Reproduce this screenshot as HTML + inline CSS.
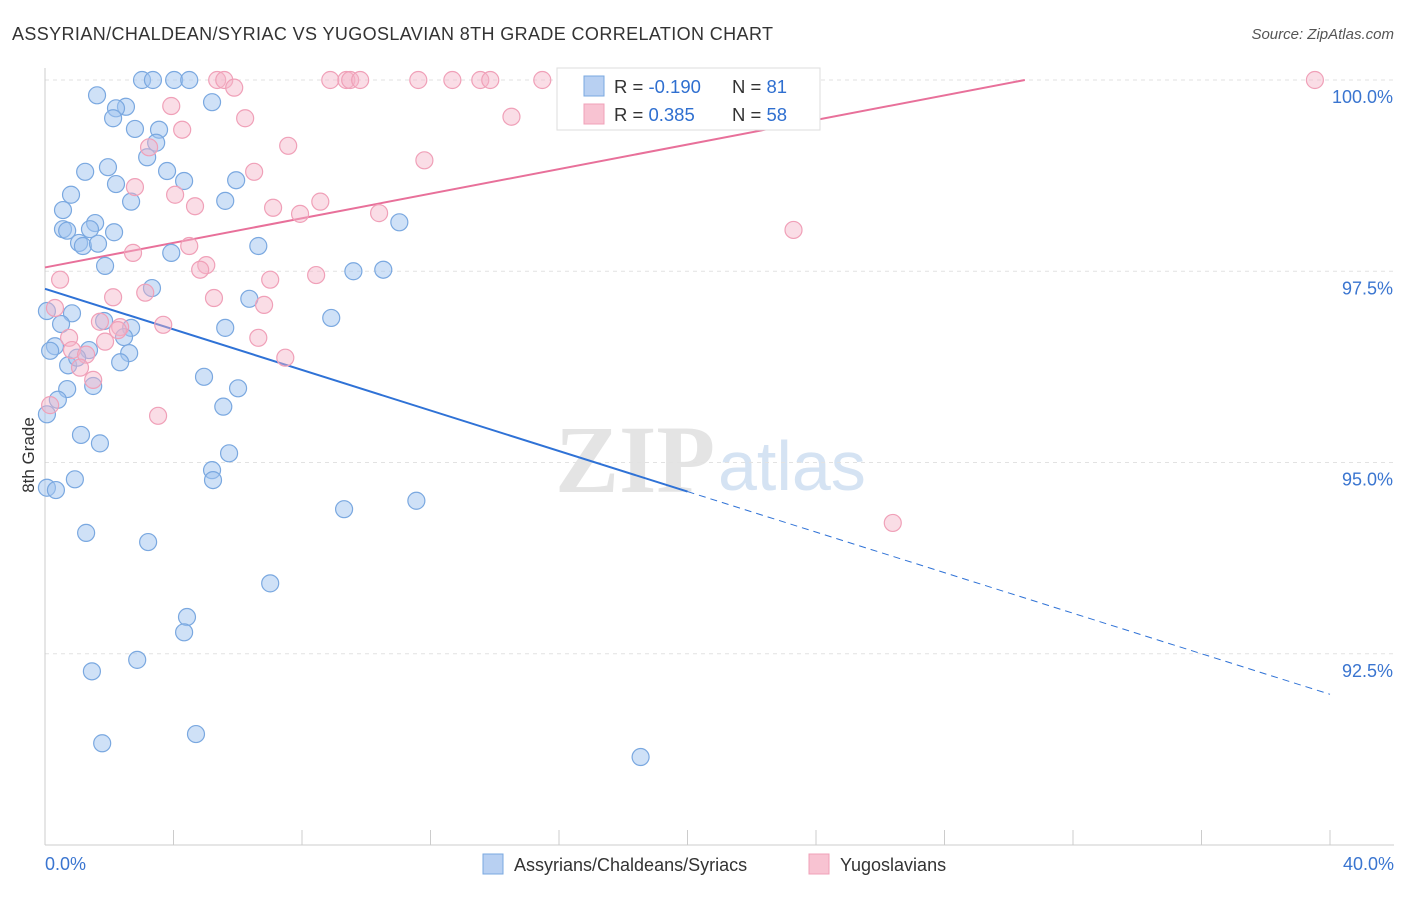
<!DOCTYPE html>
<html><head><meta charset="utf-8"><style>
body{margin:0;background:#fff;font-family:"Liberation Sans",sans-serif;}
</style></head><body>
<svg id="chart" width="1406" height="892" xmlns="http://www.w3.org/2000/svg" font-family="Liberation Sans, sans-serif">
<text x="12" y="40" font-size="18" fill="#333" textLength="761">ASSYRIAN/CHALDEAN/SYRIAC VS YUGOSLAVIAN 8TH GRADE CORRELATION CHART</text>
<text x="1394" y="39" font-size="15" fill="#555" text-anchor="end" font-style="italic">Source: ZipAtlas.com</text>
<text x="555" y="492" font-size="96" fill="#e4e4e4" font-family="Liberation Serif, serif" font-weight="bold">ZIP</text>
<text x="718" y="490" font-size="70" fill="#d5e3f3">atlas</text>
<g id="grid"></g><g id="axes"></g><g id="lines"></g><g id="pts"></g>
<text transform="translate(34,455) rotate(-90)" font-size="17" fill="#333" text-anchor="middle">8th Grade</text>
<g>
<rect x="557" y="68" width="263" height="62" fill="#fff" stroke="#ddd"/>
<rect x="584" y="76" width="20" height="20" fill="#b8d0f2" stroke="#7aa8e0"/>
<rect x="584" y="104" width="20" height="20" fill="#f8c3d2" stroke="#f0a0b8"/>
<text x="614" y="93" font-size="18.5" fill="#333">R = <tspan fill="#2f6fd0">-0.190</tspan></text>
<text x="732" y="93" font-size="18.5" fill="#333">N = <tspan fill="#2f6fd0">81</tspan></text>
<text x="614" y="121" font-size="18.5" fill="#333">R = <tspan fill="#2f6fd0"> 0.385</tspan></text>
<text x="732" y="121" font-size="18.5" fill="#333">N = <tspan fill="#2f6fd0">58</tspan></text>
</g>
<g>
<rect x="483" y="854" width="20" height="20" fill="#b8d0f2" stroke="#7aa8e0"/>
<text x="514" y="871" font-size="18" fill="#333">Assyrians/Chaldeans/Syriacs</text>
<rect x="809" y="854" width="20" height="20" fill="#f8c3d2" stroke="#f0a0b8"/>
<text x="840" y="871" font-size="18" fill="#333">Yugoslavians</text>
</g>
</svg>
<script>
const blueX=[3.02,3.36,4.02,4.49,1.62,2.52,2.21,5.20,2.12,2.80,3.55,3.46,3.18,1.96,1.25,3.80,4.33,2.21,5.95,0.81,2.68,5.61,0.56,1.56,11.03,0.56,0.69,2.15,1.40,1.06,1.18,1.65,6.64,3.93,1.87,9.60,10.53,3.33,6.36,0.06,0.84,8.91,0.50,1.84,2.68,5.61,2.46,0.31,0.16,1.37,2.62,2.34,0.72,1.00,4.95,0.69,1.50,6.01,0.40,5.55,1.12,1.71,5.73,0.06,5.20,5.23,0.93,0.06,0.34,11.56,9.31,1.28,3.21,7.01,4.42,4.33,2.87,1.46,4.70,1.78,18.54];
const blueY=[100,100,100,100,99.80,99.65,99.63,99.71,99.50,99.36,99.35,99.18,98.99,98.86,98.80,98.81,98.68,98.64,98.69,98.50,98.41,98.42,98.30,98.13,98.14,98.05,98.03,98.01,98.05,97.87,97.83,97.86,97.83,97.74,97.57,97.50,97.52,97.28,97.14,96.98,96.95,96.89,96.81,96.85,96.76,96.76,96.64,96.52,96.46,96.47,96.43,96.31,96.27,96.37,96.12,95.96,96.00,95.97,95.82,95.73,95.36,95.25,95.12,95.63,94.90,94.77,94.78,94.67,94.64,94.50,94.39,94.08,93.96,93.42,92.98,92.78,92.42,92.27,91.45,91.33,91.15];
const pinkX=[5.36,5.58,8.88,9.38,9.50,9.81,11.62,12.68,13.55,13.86,15.48,20.40,20.84,39.53,5.89,3.93,6.23,4.27,14.52,3.24,7.57,11.81,6.51,2.80,4.05,4.67,7.10,7.94,8.57,10.40,23.30,4.49,2.74,5.02,4.83,8.44,7.01,0.47,3.12,2.12,5.26,6.82,0.31,1.71,3.68,2.34,2.27,6.64,1.87,0.75,0.84,1.28,7.48,1.09,1.50,3.52,26.39,0.16];
const pinkY=[100,100,100,100,100,100,100,100,100,100,100,100,100,100,99.90,99.66,99.50,99.35,99.52,99.12,99.14,98.95,98.80,98.60,98.50,98.35,98.33,98.25,98.41,98.26,98.04,97.83,97.74,97.58,97.52,97.45,97.39,97.39,97.22,97.16,97.15,97.06,97.02,96.84,96.80,96.77,96.73,96.63,96.58,96.63,96.47,96.41,96.37,96.24,96.08,95.61,94.21,95.75];
const yTicks=[100,97.5,95,92.5];
const yTickLabels=["100.0%","97.5%","95.0%","92.5%"];
const blueTrend=[[0,97.27],[20,94.62],[40,91.97]];
const pinkTrend=[[0,97.55],[30.5,100]];
const X=v=>45+v*32.125, Y=v=>80+(100-v)*76.5;
const NS="http://www.w3.org/2000/svg";
function mk(p,t,a){const e=document.createElementNS(NS,t);for(const k in a)e.setAttribute(k,a[k]);document.getElementById(p).appendChild(e);return e;}
yTicks.forEach((t,i)=>{
 const l=mk('grid','line',{x1:45,x2:1394,y1:Y(t),y2:Y(t),stroke:'#e2e2e2','stroke-dasharray':'4,4'});
 
 
 const tx=mk('axes','text',{x:1393,y:Y(t)+23,'font-size':18,fill:'#3a75d0','text-anchor':'end'});
 tx.textContent=yTickLabels[i];
 
 
});
let ax=mk('axes','line',{x1:45,x2:1394,y1:845,y2:845,stroke:'#ccc'});


let ay=mk('axes','line',{x1:45,x2:45,y1:68,y2:845,stroke:'#ccc'});


for(let i=1;i<=10;i++){const t=mk('axes','line',{x1:X(i*4),x2:X(i*4),y1:830,y2:845,stroke:'#ccc'});
 
 }
[["0.0%",45,'start'],["40.0%",1394,'end']].forEach(d=>{const t=mk('axes','text',{x:d[1],y:870,'font-size':18,fill:'#3a75d0','text-anchor':d[2]});t.textContent=d[0];
 
 });
function pts(xs,ys,fill,stroke,name){xs.forEach((x,i)=>{const c=mk('pts','circle',{cx:X(x),cy:Y(ys[i]),r:8.5,fill:fill,stroke:stroke,'stroke-width':1.2});
 
 });}
pts(blueX,blueY,'rgba(160,195,240,0.5)','#7aa8e0','assyrian-point');
pts(pinkX,pinkY,'rgba(245,180,200,0.45)','#f0a0b8','yugoslavian-point');
const bs=mk('lines','line',{x1:X(blueTrend[0][0]),y1:Y(blueTrend[0][1]),x2:X(blueTrend[1][0]),y2:Y(blueTrend[1][1]),stroke:'#2f72d6','stroke-width':2});


const bd=mk('lines','line',{x1:X(blueTrend[1][0]),y1:Y(blueTrend[1][1]),x2:X(blueTrend[2][0]),y2:Y(blueTrend[2][1]),stroke:'#2f72d6','stroke-width':1,'stroke-dasharray':'7,5'});


const pl=mk('lines','line',{x1:X(pinkTrend[0][0]),y1:Y(pinkTrend[0][1]),x2:X(pinkTrend[1][0]),y2:Y(pinkTrend[1][1]),stroke:'#e8709a','stroke-width':2});


</script>
</body></html>
